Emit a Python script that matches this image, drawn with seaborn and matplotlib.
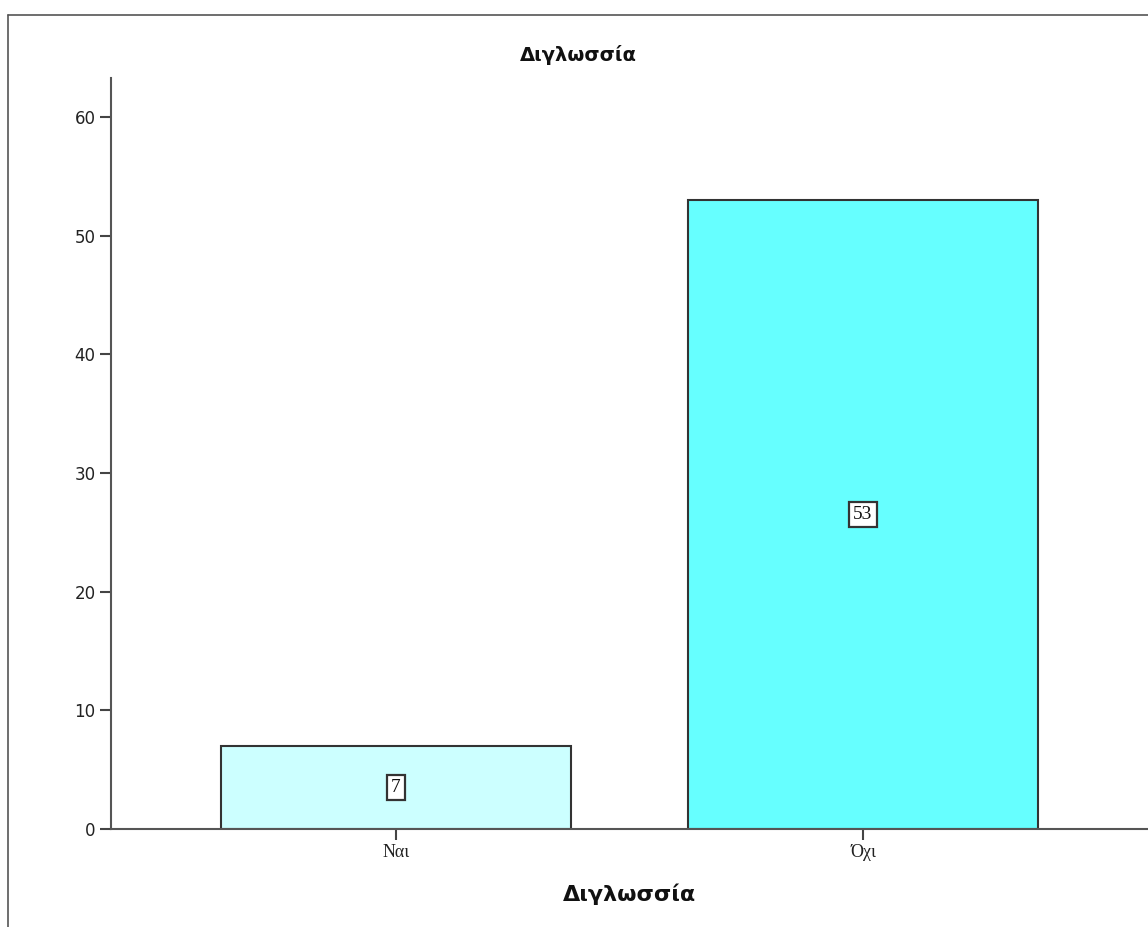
import matplotlib
matplotlib.use("Agg")
import matplotlib.pyplot as plt
from matplotlib.lines import Line2D
import seaborn as sns
import pandas as pd

# Response categories and their frequencies
categories = ["Ναι", "Όχι"]
counts = [7, 53]
bar_colors = ["#ccffff", "#66ffff"]
yticks = [0, 10, 20, 30, 40, 50, 60]
title_text = "Διγλωσσία"
xlabel_text = "Διγλωσσία"

sns.set_theme(style="white")
plt.rcParams["font.family"] = ["DejaVu Sans"]

df = pd.DataFrame({"cat": categories, "n": counts})

W, H = 1148, 927
fig = plt.figure(figsize=(W / 100, H / 100), dpi=100)
fig.patch.set_facecolor("white")
ax = fig.add_axes([111 / W, 1 - 829 / H, 1 - 111 / W, (829 - 78) / H])

sns.barplot(data=df, x="cat", y="n", hue="cat", palette=bar_colors,
            saturation=1, width=0.75, edgecolor="#333333", linewidth=1.5,
            legend=False, ax=ax)

ax.set_xlim(-0.61, 1.61)
ax.set_ylim(0, 63.3)
ax.set_yticks(yticks)
ax.set_yticklabels([str(v) for v in yticks], fontsize=12, color="#222222")
ax.set_xticks(range(len(categories)))
ax.set_xticklabels(categories, fontsize=13, family="Liberation Serif", color="#222222")
ax.tick_params(axis="both", direction="out", length=8, width=1.5, color="#444444",
               left=True, bottom=True, pad=3)

for side in ["top", "right"]:
    ax.spines[side].set_visible(False)
for side in ["left", "bottom"]:
    ax.spines[side].set_color("#555555")
    ax.spines[side].set_linewidth(1.5)

ax.set_ylabel("")
ax.set_xlabel(xlabel_text, fontsize=16, fontweight="bold", color="#111111", labelpad=16)

# Count labels boxed at the middle of each bar
for i, v in enumerate(counts):
    ax.text(i, v / 2, str(v), ha="center", va="center", fontsize=14,
            family="Liberation Serif", color="#111111",
            bbox=dict(boxstyle="square,pad=0.2", facecolor="white",
                      edgecolor="#333333", linewidth=1.6))

fig.text(0.504, 1 - 55 / H, title_text, ha="center", va="center",
         fontsize=14, fontweight="bold", color="#111111")

# Outer frame lines (left and top edges)
fig.add_artist(Line2D([8 / W, 8 / W], [0, 1 - 15 / H], transform=fig.transFigure,
                      color="#555555", linewidth=1.2))
fig.add_artist(Line2D([8 / W, 1], [1 - 15 / H, 1 - 15 / H], transform=fig.transFigure,
                      color="#555555", linewidth=1.2))

fig.savefig("out.png", dpi=100, facecolor="white")
